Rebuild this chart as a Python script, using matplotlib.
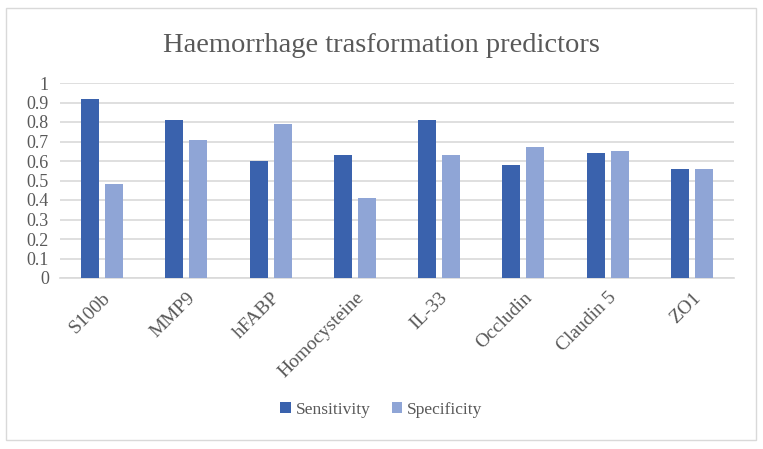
import numpy as np
import matplotlib.pyplot as plt
from matplotlib.patches import Rectangle

categories = ["S100b", "MMP9", "hFABP", "Homocysteine", "IL-33", "Occludin", "Claudin 5", "ZO1"]
sensitivity = [0.92, 0.81, 0.60, 0.63, 0.81, 0.58, 0.64, 0.56]
specificity = [0.48, 0.71, 0.79, 0.41, 0.63, 0.67, 0.65, 0.56]

plt.rcParams['font.family'] = ['Liberation Serif', 'DejaVu Serif']
txt = '#595959'

fig = plt.figure(figsize=(7.63, 4.49), dpi=100)
fig.patches.append(Rectangle((6 / 763, 1 - 440 / 449), 750 / 763, 432 / 449,
                             transform=fig.transFigure, fill=False,
                             edgecolor='#D9D9D9', linewidth=1))
ax = fig.add_axes([60 / 763, 1 - 278 / 449, 674 / 763, 195 / 449])

x = np.arange(len(categories))
w = 0.214
ax.bar(x - 0.142, sensitivity, w, color='#3A62AD', label='Sensitivity', zorder=3)
ax.bar(x + 0.142, specificity, w, color='#8FA5D6', label='Specificity', zorder=3)

ax.set_xlim(-0.5, len(categories) - 0.5)
ax.set_ylim(0, 1)
ax.set_yticks(np.arange(0, 1.01, 0.1))
ax.set_yticklabels(['0'] + ['%.1f' % v for v in np.arange(0.1, 0.95, 0.1)] + ['1'])
ax.yaxis.grid(True, color='#D9D9D9', linewidth=1.2, zorder=0)
for s in ['top', 'right', 'left']:
    ax.spines[s].set_visible(False)
ax.spines['bottom'].set_color('#D9D9D9')
ax.spines['bottom'].set_linewidth(1.2)
ax.tick_params(axis='both', length=0, colors=txt, labelsize=13)
ax.tick_params(axis='y', pad=8)
ax.tick_params(axis='x', pad=8, labelsize=14)
ax.set_xticks(x)
ax.set_xticklabels(categories, rotation=45, ha='right', rotation_mode='anchor')

fig.text(0.5, 1 - 45 / 449, "Haemorrhage trasformation predictors", ha='center', va='center',
         fontsize=20.5, color=txt)
fig.legend(loc='center', bbox_to_anchor=(0.5, 1 - 410 / 449), ncol=2, frameon=False,
           fontsize=12.5, labelcolor=txt, handlelength=0.6, handleheight=0.6,
           handletextpad=0.3, columnspacing=1.2)

plt.savefig("out.png", dpi=100)
